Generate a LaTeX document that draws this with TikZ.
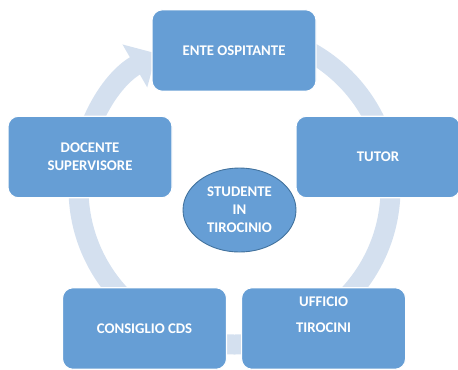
\documentclass[tikz,border=0pt]{standalone}
\usepackage{fontspec}
\setmainfont{Carlito}
\usepackage{xcolor}
\usepackage{tikz}
\usetikzlibrary{positioning,shapes.geometric,arrows.meta}

\definecolor{boxblue}{HTML}{669ED5}
\definecolor{ringblue}{HTML}{D4E0EF}
\definecolor{hubedge}{HTML}{41719C}

\begin{document}
\begin{tikzpicture}[
    role/.style={draw=white, line width=0.6pt, fill=boxblue, rounded corners=6pt,
                 minimum width=3.28cm, minimum height=1.63cm, align=center,
                 text=white, font=\fontsize{8.4}{10.2}\selectfont\bfseries},
    hub/.style={ellipse, draw=hubedge, line width=0.5pt, fill=boxblue,
                minimum width=2.26cm, minimum height=1.68cm, inner sep=0pt,
                align=center, text=white,
                font=\fontsize{8.4}{10.2}\selectfont\bfseries},
    ring/.style={ringblue, line width=0.4cm,
                 -{Triangle[width=0.96cm, length=0.5cm]}},
  ]
  \useasboundingbox (0,0) rectangle (9.16,7.38);

  % cycle arrow behind the roles
  \coordinate (c) at (4.69,3.61);
  \draw[ring] ([shift={(90:3.12)}]c) arc[start angle=90, end angle=-240, radius=3.12];

  % Roles
  \node[role] (ente) at (4.68,6.37) {ENTE OSPITANTE};
  \node[role] (tutor) at (7.56,4.24) {TUTOR};
  \node[role] (docente) at (1.80,4.24) {DOCENTE\\SUPERVISORE};
  \node[role] (consiglio) at (2.89,0.81) {CONSIGLIO CDS};
  \node[role, right=0.28cm of consiglio] (ufficio)
    {UFFICIO\\[4.6pt]TIROCINI\\[6pt]\mbox{}};

  % Student in the middle
  \node[hub] (studente) at (4.79,3.18) {STUDENTE\\IN\\TIROCINIO};

\end{tikzpicture}
\end{document}
